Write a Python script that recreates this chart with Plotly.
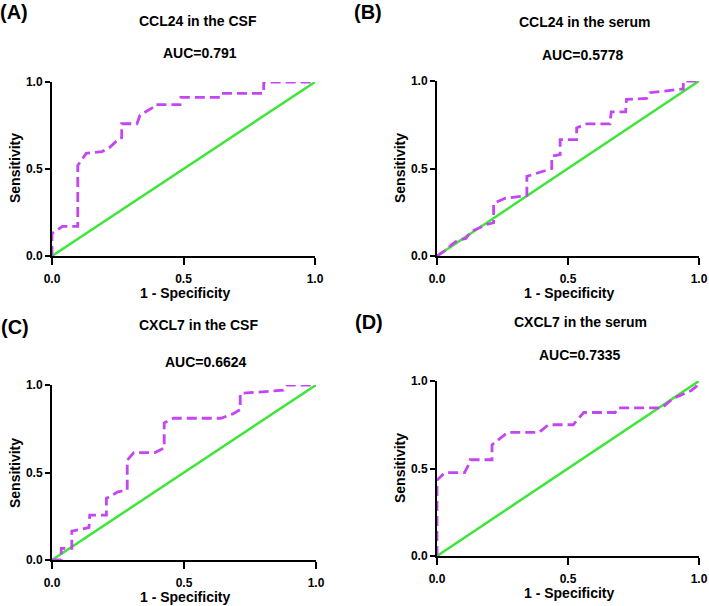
import plotly.graph_objs as go

#%% data
panel_labels = ["(A)", "(B)", "(C)", "(D)"]
titles = ["CCL24 in the CSF", "CCL24 in the serum", "CXCL7 in the CSF", "CXCL7 in the serum"]
auc_text = ["AUC=0.791", "AUC=0.5778", "AUC=0.6624", "AUC=0.7335"]
tick_vals = [0, 0.5, 1.0]
tick_text = ["0.0", "0.5", "1.0"]

xa = [0, 0, 0.04, 0.098, 0.098, 0.13, 0.19, 0.22, 0.255, 0.265, 0.265, 0.323, 0.335, 0.385, 0.39, 0.487, 0.49, 0.64, 0.645, 0.805, 0.805, 1.0]
ya = [0, 0.13, 0.17, 0.17, 0.52, 0.59, 0.60, 0.625, 0.675, 0.68, 0.76, 0.76, 0.81, 0.855, 0.87, 0.87, 0.912, 0.912, 0.935, 0.935, 1.0, 1.0]

xb = [0, 0.03, 0.06, 0.08, 0.11, 0.13, 0.16, 0.19, 0.216, 0.216, 0.26, 0.343, 0.343, 0.40, 0.438, 0.438, 0.47, 0.47, 0.533, 0.533, 0.57, 0.66, 0.665, 0.72, 0.723, 0.80, 0.812, 0.94, 0.94, 1.0]
yb = [0, 0.03, 0.07, 0.09, 0.10, 0.14, 0.16, 0.18, 0.19, 0.30, 0.33, 0.345, 0.455, 0.48, 0.50, 0.57, 0.58, 0.665, 0.665, 0.732, 0.755, 0.755, 0.824, 0.824, 0.895, 0.90, 0.933, 0.955, 1.0, 1.0]

xc = [0, 0.035, 0.035, 0.075, 0.075, 0.14, 0.143, 0.206, 0.206, 0.25, 0.285, 0.285, 0.31, 0.39, 0.425, 0.425, 0.46, 0.64, 0.685, 0.713, 0.713, 0.877, 0.89, 1.0]
yc = [0, 0, 0.067, 0.067, 0.165, 0.185, 0.257, 0.257, 0.352, 0.39, 0.40, 0.57, 0.614, 0.614, 0.64, 0.784, 0.81, 0.81, 0.835, 0.86, 0.952, 0.97, 1.0, 1.0]

xd = [0, 0, 0.03, 0.105, 0.127, 0.127, 0.21, 0.21, 0.27, 0.39, 0.425, 0.52, 0.56, 0.68, 0.69, 0.86, 0.90, 0.97, 0.99, 1.0]
yd = [0, 0.434, 0.476, 0.476, 0.54, 0.55, 0.55, 0.635, 0.707, 0.707, 0.75, 0.75, 0.82, 0.82, 0.847, 0.847, 0.9, 0.945, 0.97, 1.0]

curves = [(xa, ya), (xb, yb), (xc, yc), (xd, yd)]
ref_line = [0, 1]

#%% layout in pixels of the 709x606 page
W, H = 709, 606
# plot boxes: left, right, top, bottom (px)
boxes = [(52, 315, 82, 256), (437, 699, 81, 256), (52, 316, 385, 560), (437, 699, 381, 556)]
title_pos = [(198, 21), (584, 22), (198, 325), (580, 322)]
auc_pos = [(200, 53), (583, 55), (206, 362), (580, 355)]
xlab_pos = [(185, 293), (569, 293), (185, 597), (569, 593)]
ylab_pos = [(15, 168), (400, 168), (15, 473), (400, 468)]
lab_pos = [(14, 12), (368, 12), (15, 327), (369, 322)]

FONT = "Arial, Liberation Sans, sans-serif"
purple = "#C445F2"
green = "#3FE63A"

fig = go.Figure()
ann = []
layout = {}
for i in range(4):
    sfx = "" if i == 0 else str(i + 1)
    l, r, t, b = boxes[i]
    axis_common = dict(range=[0, 1], showgrid=False, zeroline=False, showline=True, automargin=False,
                       linecolor="black", linewidth=2, ticks="outside",
                       tickwidth=2, tickcolor="black", tickvals=tick_vals, ticktext=tick_text,
                       tickfont=dict(family=FONT, size=12, color="black", weight="bold"),
                       fixedrange=True)
    layout["xaxis" + sfx] = dict(axis_common, domain=[l / W, r / W], anchor="y" + sfx,
                                 ticklen=7, ticklabelstandoff=4)
    layout["yaxis" + sfx] = dict(axis_common, domain=[1 - b / H, 1 - t / H], anchor="x" + sfx,
                                 ticklen=5)

    fig.add_trace(go.Scatter(x=ref_line, y=ref_line, mode="lines", xaxis="x" + sfx, yaxis="y" + sfx,
                             line=dict(color=green, width=2.5), showlegend=False, hoverinfo="skip"))
    fig.add_trace(go.Scatter(x=curves[i][0], y=curves[i][1], mode="lines", xaxis="x" + sfx, yaxis="y" + sfx,
                             line=dict(color=purple, width=2.8, dash="10px,5px"), showlegend=False))

    def note(txt, pos, size, angle=0):
        return dict(text="<b>" + txt + "</b>", x=pos[0] / W, y=1 - pos[1] / H, xref="paper", yref="paper",
                    xanchor="center", yanchor="middle", showarrow=False, textangle=angle,
                    font=dict(family=FONT, size=size, color="black"))

    ann.append(note(titles[i], title_pos[i], 14))
    ann.append(note(auc_text[i], auc_pos[i], 14))
    ann.append(note("1 - Specificity", xlab_pos[i], 14))
    ann.append(note("Sensitivity", ylab_pos[i], 14, -90))
    ann.append(note(panel_labels[i], lab_pos[i], 20))

fig.update_layout(width=W, height=H, margin=dict(l=0, r=0, t=0, b=0, autoexpand=False),
                  plot_bgcolor="white", paper_bgcolor="white", annotations=ann, **layout)
# page body has a default 8px margin, drop it so the figure sits at 0,0
fig.write_html("out.html", config={"displayModeBar": False},
               post_script="document.body.style.margin='0';document.body.style.overflow='hidden';")
